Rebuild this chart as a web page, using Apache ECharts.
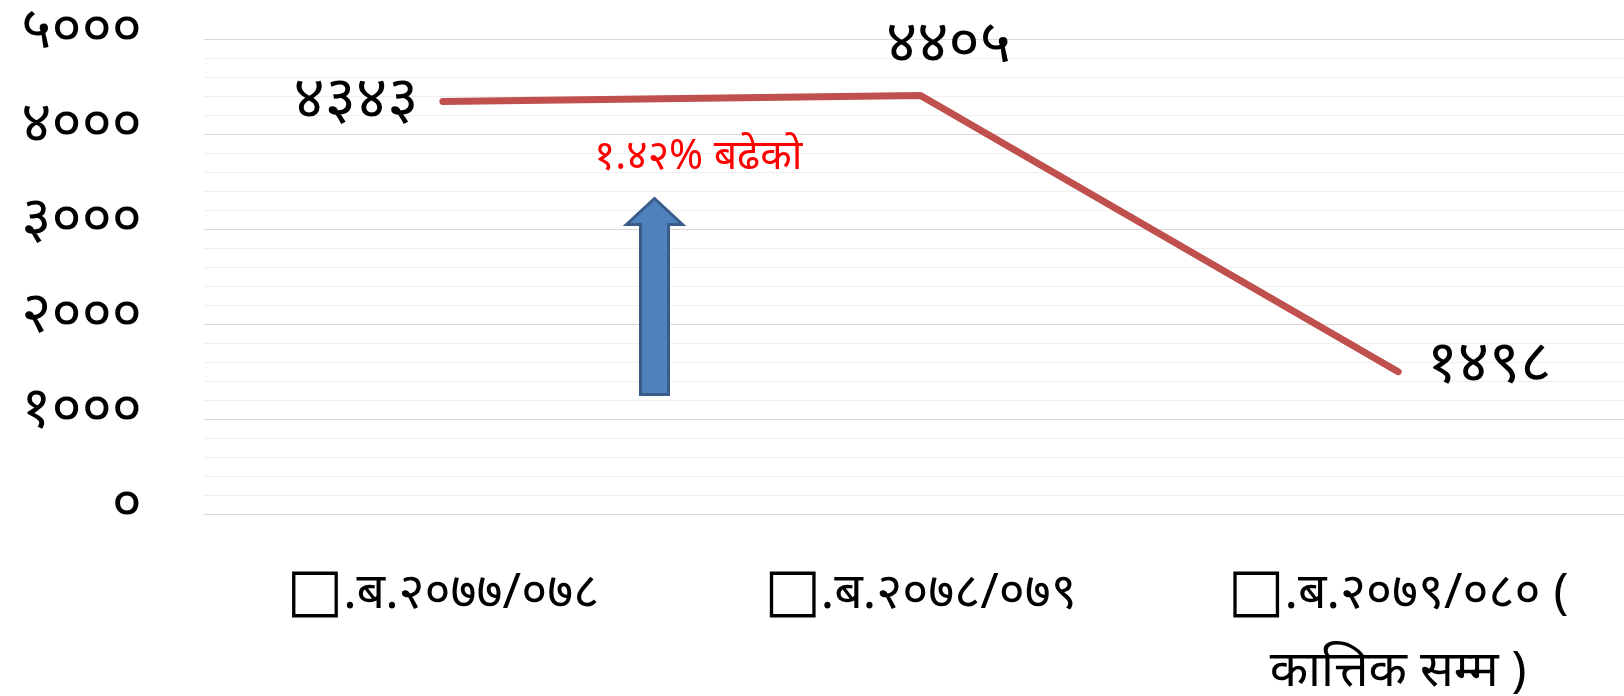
<!DOCTYPE html>
<html><head><meta charset="utf-8">
<script src="https://cdn.jsdelivr.net/npm/echarts@6/dist/echarts.min.js"></script>
<style>html,body{margin:0;padding:0;background:#fff}#c{width:1624px;height:696px}</style>
</head><body><div id="c"></div>
<script>
const categories = ['.ब.२०७७/०७८', '.ब.२०७८/०७९', '.ब.२०७९/०८० (\nकात्तिक सम्म )'];
const values = [4343, 4405, 1498];
const yTicks = [0, 1000, 2000, 3000, 4000, 5000];
const annotationText = '१.४२% बढेको';

const devDigits = ['०','१','२','३','४','५','६','७','८','९'];
function toDev(n){ return String(n).replace(/[0-9]/g, d => devDigits[+d]); }

const FONT = '"Noto Sans", "DejaVu Sans", serif';
const chart = echarts.init(document.getElementById('c'));
const labelCfg = [
  { position: 'left', distance: 24, offset: [0, -1] },
  { position: 'top', distance: 20, offset: [28, 0] },
  { position: 'right', distance: 28, offset: [0, -7] }
];
chart.setOption({
  animation: false,
  grid: { left: 204, width: 1433, top: 39, height: 475, containLabel: false, outerBoundsMode: 'none' },
  xAxis: {
    type: 'category',
    data: categories,
    boundaryGap: true,
    axisLine: { show: true, lineStyle: { color: '#d9d9d9', width: 1 } },
    axisTick: { show: false },
    axisLabel: {
      interval: 0, margin: 41, color: '#000', fontSize: 50, fontFamily: FONT, lineHeight: 78,
      formatter: v => v.split('\n').map((s, i) => i === 0 ? '{box|□}' + s : s).join('\n'),
      rich: { box: { fontSize: 60, fontFamily: '"DejaVu Sans"', color: '#000', lineHeight: 78 } }
    }
  },
  yAxis: {
    type: 'value', min: 0, max: 5000, interval: 1000,
    axisLine: { show: false }, axisTick: { show: false },
    axisLabel: {
      margin: 62, formatter: v => '{n|' + toDev(v) + '}',
      rich: { n: { color: '#000', fontSize: 58, fontFamily: FONT, lineHeight: 60, padding: [0, 0, 17, 0] } }
    },
    splitLine: { show: true, lineStyle: { color: '#d9d9d9', width: 1 } },
    minorTick: { show: false, splitNumber: 5 },
    minorSplitLine: { show: true, lineStyle: { color: '#efefef', width: 1 } }
  },
  series: [{
    type: 'line',
    data: values.map((v, i) => ({ value: v, label: labelCfg[i] })),
    symbol: 'circle', symbolSize: 1, showSymbol: true,
    itemStyle: { color: 'rgba(0,0,0,0)' },
    lineStyle: { color: '#C0504D', width: 7, cap: 'round', join: 'round' },
    label: { show: true, color: '#000', fontSize: 60, fontFamily: FONT, formatter: p => toDev(p.value) }
  }],
  graphic: [{
    type: 'polygon', left: 625, top: 197, z: 100,
    shape: { points: [[28,0],[56,26],[42,26],[42,196],[14,196],[14,26],[0,26]] },
    style: { fill: '#4F81BD', stroke: '#385D8A', lineWidth: 3 }
  }, {
    type: 'text', left: 594, top: 137, z: 100,
    style: { text: annotationText, fill: '#ff0000', fontSize: 41, fontFamily: FONT }
  }]
});
</script></body></html>
